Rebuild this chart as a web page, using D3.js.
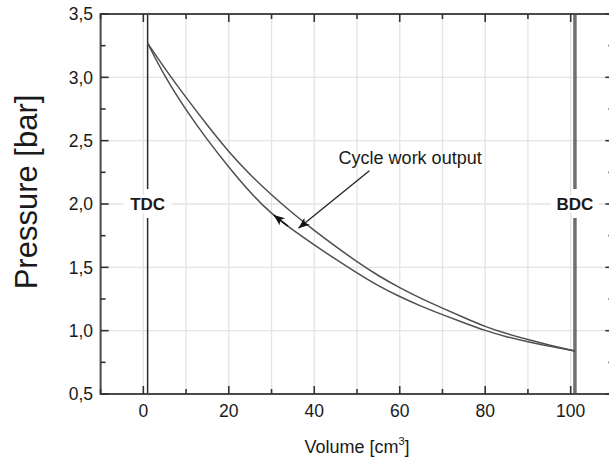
<!DOCTYPE html>
<html>
<head>
<meta charset="utf-8">
<script src="https://cdn.jsdelivr.net/npm/d3@7"></script>
<style>
  html, body { margin: 0; padding: 0; background: #fff; }
  svg { display: block; }
  text { font-family: "Liberation Sans", Arial, sans-serif; fill: #1a1a1a; }
</style>
</head>
<body>
<svg id="chart" width="609" height="459"></svg>
<script>
// Volume samples [cm^3]
const volume = [1, 5, 10, 15, 20, 25, 30, 35, 40, 45, 50, 55, 60, 65, 70, 75, 80, 85, 90, 95, 101];
// Pressure along the upper branch [bar]
const pressureUpper = [3.27, 3.07, 2.84, 2.62, 2.41, 2.23, 2.07, 1.925, 1.79, 1.665, 1.543, 1.433, 1.338, 1.254, 1.178, 1.104, 1.031, 0.976, 0.929, 0.886, 0.84];
// Pressure along the lower branch [bar]
const pressureLower = [3.27, 3.005, 2.74, 2.505, 2.29, 2.09, 1.92, 1.795, 1.677, 1.563, 1.455, 1.352, 1.268, 1.192, 1.126, 1.062, 1.0, 0.951, 0.912, 0.876, 0.84];

const xTicks = [0, 20, 40, 60, 80, 100];
const xMinorTicks = [-10, 10, 30, 50, 70, 90, 110];
const yTicks = [0.5, 1.0, 1.5, 2.0, 2.5, 3.0, 3.5];
const yMinorTicks = [0.75, 1.25, 1.75, 2.25, 2.75, 3.25];

// Dead-centre markers
const deadCentres = [
  { v: 1, label: "TDC", p: 2.0 },
  { v: 101, label: "BDC", p: 2.0 }
];
// Direction arrow on the lower branch and the work annotation
const flowArrow = { v: 30.5 };
const annotation = { text: "Cycle work output", textV: 45.7, textP: 2.315, fromV: 52.9, fromP: 2.263, toV: 36.3, toP: 1.808 };

const svg = d3.select("#chart");
const x = d3.scaleLinear().domain([-10, 110]).range([100.6, 613.4]);
const y = d3.scaleLinear().domain([0.5, 3.5]).range([394, 14]);

const fmt = d => d3.format(".1f")(d).replace(".", ",");

// grid
const grid = svg.append("g").attr("stroke", "#e4e4e4").attr("stroke-width", 1.3);
grid.selectAll("line.gx").data(xTicks.concat(xMinorTicks)).join("line")
  .attr("x1", d => x(d)).attr("x2", d => x(d)).attr("y1", y(0.5)).attr("y2", y(3.5));
grid.selectAll("line.gy").data(yTicks).join("line")
  .attr("y1", d => y(d)).attr("y2", d => y(d)).attr("x1", x(-10)).attr("x2", x(110));

// dead-centre vertical lines with a gap at the label
const dc = svg.append("g");
deadCentres.forEach((d, i) => {
  const px = x(d.v), py = y(d.p);
  const sw = i === 0 ? 1.5 : 3.5, col = i === 0 ? "#2a2a2a" : "#707070";
  dc.append("line").attr("x1", px).attr("x2", px).attr("y1", y(3.5)).attr("y2", py - 15)
    .attr("stroke", col).attr("stroke-width", sw);
  dc.append("line").attr("x1", px).attr("x2", px).attr("y1", py + 14).attr("y2", y(0.5))
    .attr("stroke", col).attr("stroke-width", sw);
  dc.append("rect").attr("x", px - 24).attr("y", py - 9).attr("width", 48).attr("height", 18).attr("fill", "#fff");
  dc.append("text").attr("x", px).attr("y", py).attr("dy", "0.36em")
    .attr("text-anchor", "middle").attr("font-weight", "bold").attr("font-size", 17).text(d.label);
});

// curves
const line = d3.line().x(d => x(d[0])).y(d => y(d[1])).curve(d3.curveBasis);
const upper = volume.map((v, i) => [v, pressureUpper[i]]);
const lower = volume.map((v, i) => [v, pressureLower[i]]);
svg.append("path").datum(upper).attr("d", line).attr("fill", "none").attr("stroke", "#4f4f4f").attr("stroke-width", 1.5);
const lowerPath = svg.append("path").datum(lower).attr("d", line).attr("fill", "none").attr("stroke", "#4f4f4f").attr("stroke-width", 1.5);

// arrow heads
svg.append("defs").append("marker").attr("id", "head")
  .attr("viewBox", "0 0 10 10").attr("refX", 10).attr("refY", 5)
  .attr("markerWidth", 11).attr("markerHeight", 11).attr("markerUnits", "userSpaceOnUse")
  .attr("orient", "auto")
  .append("path").attr("d", "M0,1 L10,5 L0,9 L2.5,5 Z").attr("fill", "#111");

// flow direction on the lower branch
{
  const node = lowerPath.node();
  const total = node.getTotalLength();
  let lo = 0, hi = total;
  const tx = x(flowArrow.v);
  for (let k = 0; k < 40; k++) {
    const mid = (lo + hi) / 2;
    if (node.getPointAtLength(mid).x < tx) lo = mid; else hi = mid;
  }
  const tip = node.getPointAtLength(lo);
  const tail = node.getPointAtLength(lo + 18);
  svg.append("line").attr("x1", tail.x).attr("y1", tail.y).attr("x2", tip.x).attr("y2", tip.y)
    .attr("stroke", "#111").attr("stroke-width", 1.5).attr("marker-end", "url(#head)");
}

// annotation
svg.append("line")
  .attr("x1", x(annotation.fromV)).attr("y1", y(annotation.fromP))
  .attr("x2", x(annotation.toV)).attr("y2", y(annotation.toP))
  .attr("stroke", "#222").attr("stroke-width", 1.3).attr("marker-end", "url(#head)");
svg.append("text").attr("x", x(annotation.textV)).attr("y", y(annotation.textP))
  .attr("font-size", 18).text(annotation.text);

// frame
const frame = svg.append("g").attr("stroke", "#4a4a4a").attr("stroke-width", 2).attr("fill", "none");
frame.append("rect").attr("x", x(-10)).attr("y", y(3.5)).attr("width", x(110) - x(-10)).attr("height", y(0.5) - y(3.5));

// ticks (inward on all four sides)
const tk = svg.append("g").attr("stroke", "#333").attr("stroke-width", 1.6);
const xt = xTicks.map(v => ({ v, len: 8 })).concat(xMinorTicks.map(v => ({ v, len: 5 })));
const yt = yTicks.map(v => ({ v, len: 8 })).concat(yMinorTicks.map(v => ({ v, len: 5 })));
xt.forEach(t => {
  tk.append("line").attr("x1", x(t.v)).attr("x2", x(t.v)).attr("y1", y(0.5)).attr("y2", y(0.5) - t.len);
  tk.append("line").attr("x1", x(t.v)).attr("x2", x(t.v)).attr("y1", y(3.5)).attr("y2", y(3.5) + t.len);
});
yt.forEach(t => {
  tk.append("line").attr("y1", y(t.v)).attr("y2", y(t.v)).attr("x1", x(-10)).attr("x2", x(-10) + t.len);
  tk.append("line").attr("y1", y(t.v)).attr("y2", y(t.v)).attr("x1", x(110)).attr("x2", x(110) - t.len);
});

// tick labels
svg.append("g").selectAll("text").data(xTicks).join("text")
  .attr("x", d => x(d)).attr("y", 417).attr("text-anchor", "middle").attr("font-size", 17.5).text(d => d);
svg.append("g").selectAll("text").data(yTicks).join("text")
  .attr("x", 93).attr("y", d => y(d)).attr("dy", "0.36em").attr("text-anchor", "end").attr("font-size", 17.5).text(fmt);

// axis titles
const xt2 = svg.append("text").attr("x", 357).attr("y", 453).attr("text-anchor", "middle").attr("font-size", 18);
xt2.append("tspan").text("Volume [cm");
xt2.append("tspan").attr("font-size", 11).attr("dy", -8).text("3");
xt2.append("tspan").attr("dy", 8).text("]");
svg.append("text").attr("transform", "translate(37,192) rotate(-90)")
  .attr("text-anchor", "middle").attr("font-size", 31).text("Pressure [bar]");
</script>
</body>
</html>
